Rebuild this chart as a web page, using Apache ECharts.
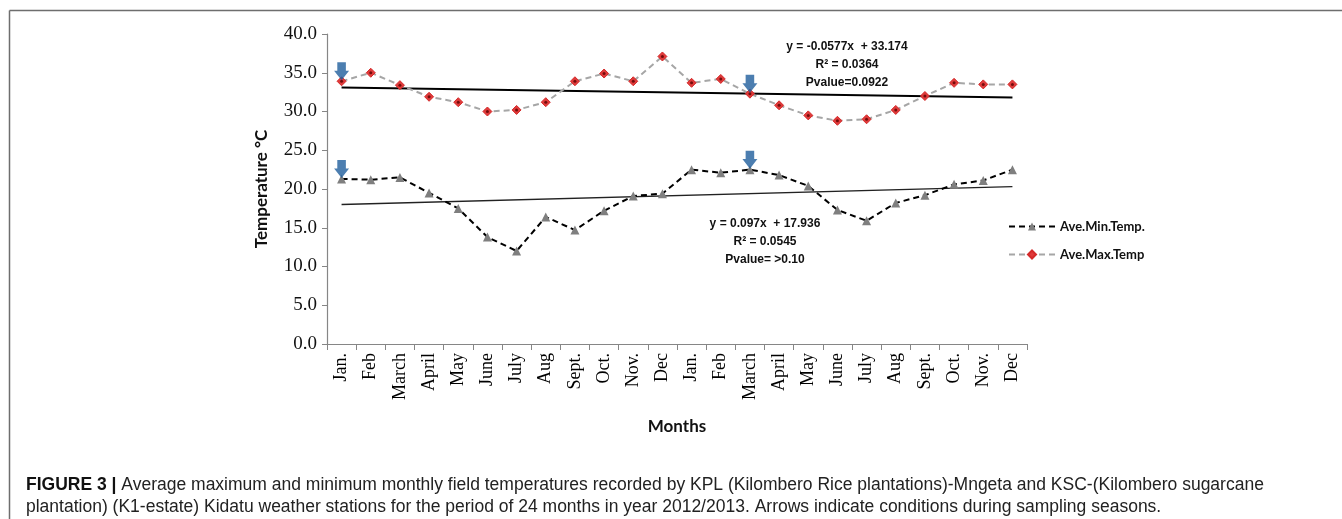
<!DOCTYPE html>
<html>
<head>
<meta charset="utf-8">
<script src="https://cdn.jsdelivr.net/npm/echarts@6/dist/echarts.min.js"></script>
<style>
html,body{margin:0;padding:0;background:#fff;}
#chart{width:1342px;height:519px;}
</style>
</head>
<body>
<div id="chart"></div>
<script>
// ---- data ----
const months = ['Jan.','Feb','March','April','May','June','July','Aug','Sept.','Oct.','Nov.','Dec',
                'Jan.','Feb','March','April','May','June','July','Aug','Sept.','Oct.','Nov.','Dec'];
const aveMinTemp = [21.3,21.2,21.5,19.5,17.5,13.8,12.0,16.4,14.7,17.2,19.1,19.4,
                    22.5,22.1,22.5,21.8,20.4,17.3,15.9,18.2,19.2,20.6,21.1,22.5];
const aveMaxTemp = [33.9,35.0,33.4,31.9,31.2,30.0,30.2,31.2,33.9,34.9,33.9,37.1,
                    33.7,34.2,32.3,30.8,29.5,28.8,29.0,30.2,32.0,33.7,33.5,33.5];
const trendMaxEnds = [33.1, 31.8];   // linear trend, first & last month
const trendMinEnds = [18.0, 20.3];
const arrowMonths = [0, 14];         // sampling seasons
const yTicks = {min: 0, max: 40, interval: 5};
const eqMax = ['y = -0.0577x  + 33.174', 'R\u00B2 = 0.0364', 'Pvalue=0.0922'];
const eqMin = ['y = 0.097x  + 17.936', 'R\u00B2 = 0.0545', 'Pvalue= >0.10'];
const captionBold = 'FIGURE 3 | ';
const captionLine1 = 'Average maximum and minimum monthly field temperatures recorded by KPL (Kilombero Rice plantations)-Mngeta and KSC-(Kilombero sugarcane';
const captionLine2 = 'plantation) (K1-estate) Kidatu weather stations for the period of 24 months in year 2012/2013. Arrows indicate conditions during sampling seasons.';

const chart = echarts.init(document.getElementById('chart'), null, {renderer: 'canvas'});
const last = months.length - 1;
const arrowPath = 'path://M3,0 L11,0 L11,8 L14,8 L7,17 L0,8 L3,8 Z';
const arrowData = [];
arrowMonths.forEach(i => { arrowData.push([i, aveMaxTemp[i]]); arrowData.push([i, aveMinTemp[i]]); });

const option = {
  animation: false,
  backgroundColor: '#fff',
  grid: {left: 327, right: 315, top: 34, bottom: 175, containLabel: false},
  legend: {
    orient: 'vertical', left: 1003, top: 215, itemWidth: 46, itemHeight: 10, itemGap: 15,
    data: ['Ave.Min.Temp.', 'Ave.Max.Temp'],
    textStyle: {fontFamily: 'Lato', fontSize: 13, fontWeight: 'bold', color: '#111'}
  },
  xAxis: {
    type: 'category', data: months, boundaryGap: true,
    axisLine: {lineStyle: {color: '#868686', width: 1.2}},
    axisTick: {show: true, length: 6, interval: 0, alignWithLabel: false, lineStyle: {color: '#868686'}},
    axisLabel: {interval: 0, rotate: 90, margin: 9, fontFamily: 'Liberation Serif', fontSize: 18, color: '#000'},
    name: 'Months', nameLocation: 'middle', nameGap: 74,
    nameTextStyle: {fontFamily: 'Lato', fontSize: 17, fontWeight: 'bold', color: '#111'}
  },
  yAxis: {
    type: 'value', min: yTicks.min, max: yTicks.max, interval: yTicks.interval,
    axisLine: {show: true, lineStyle: {color: '#868686', width: 1.2}},
    axisTick: {show: true, length: 5, lineStyle: {color: '#868686'}},
    splitLine: {show: false},
    axisLabel: {margin: 10, fontFamily: 'Liberation Serif', fontSize: 19, color: '#111',
                formatter: v => v.toFixed(1)},
    name: 'Temperature \u00B0C', nameLocation: 'middle', nameGap: 57,
    nameTextStyle: {fontFamily: 'Lato', fontSize: 17, fontWeight: 'bold', color: '#111'}
  },
  series: [
    {
      name: 'Ave.Min.Temp.', type: 'line', data: aveMinTemp, z: 3,
      symbol: 'triangle', symbolSize: 9,
      itemStyle: {color: '#7f7f7f'},
      lineStyle: {color: '#000', width: 2, type: [6, 4]}
    },
    {
      name: 'Ave.Max.Temp', type: 'line', data: aveMaxTemp, z: 3,
      symbol: 'diamond', symbolSize: 9,
      itemStyle: {color: '#e03a3a', borderColor: '#d42a2a', borderWidth: 1},
      lineStyle: {color: '#a6a6a6', width: 2, type: [6, 4]}
    },
    {
      name: 'trendMax', type: 'line', data: [[0, trendMaxEnds[0]], [last, trendMaxEnds[1]]],
      symbol: 'none', z: 2, lineStyle: {color: '#000', width: 2}
    },
    {
      name: 'trendMin', type: 'line', data: [[0, trendMinEnds[0]], [last, trendMinEnds[1]]],
      symbol: 'none', z: 2, lineStyle: {color: '#222', width: 1.3}
    },
    {
      name: 'arrows', type: 'scatter', data: arrowData, z: 5,
      symbol: arrowPath, symbolSize: [15, 18], symbolOffset: [0, -10],
      itemStyle: {color: '#1f5e9c'}
    },
    {
      name: 'dots', type: 'scatter', data: aveMaxTemp.map((v, i) => [i, v]), z: 4,
      symbol: 'circle', symbolSize: 3, itemStyle: {color: '#5a0000'}, silent: true
    }
  ],
  graphic: [
    {type: 'line', shape: {x1: 9.5, y1: 10.5, x2: 1342, y2: 10.5}, style: {stroke: '#6e6e6e', lineWidth: 1.5}},
    {type: 'line', shape: {x1: 9.5, y1: 10.5, x2: 9.5, y2: 519}, style: {stroke: '#6e6e6e', lineWidth: 1.5}},
    {type: 'text', x: 847, y: 38, style: {text: eqMax.join('\n'), align: 'center', lineHeight: 18,
      font: '12px Lato', fill: '#111', fontWeight: 'bold'}},
    {type: 'text', x: 765, y: 215, style: {text: eqMin.join('\n'), align: 'center', lineHeight: 18,
      font: '12px Lato', fill: '#111', fontWeight: 'bold'}},
    {type: 'text', x: 26, y: 474, style: {
      text: '{b|' + captionBold + '}' + captionLine1 + '\n' + captionLine2,
      font: '17.5px "Liberation Sans"', fill: '#222', lineHeight: 22,
      rich: {b: {fontWeight: 'bold', fontSize: 17.5, fontFamily: 'Liberation Sans', fill: '#111'}}
    }}
  ]
};
chart.setOption(option);
</script>
</body>
</html>
